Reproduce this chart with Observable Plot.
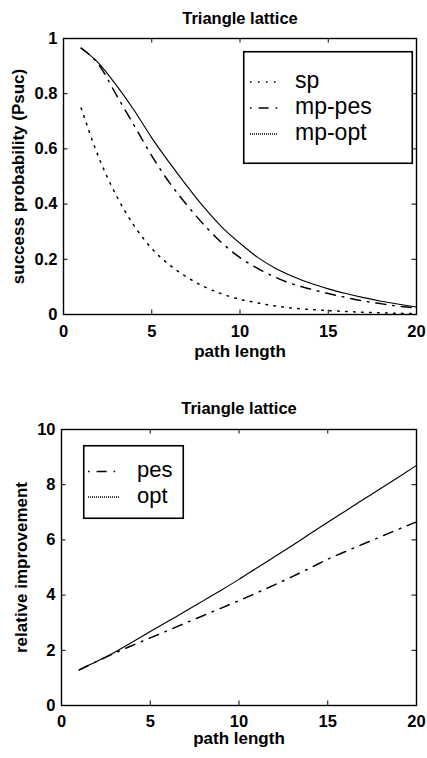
<!DOCTYPE html>
<html><head><meta charset="utf-8">
<script src="https://cdn.jsdelivr.net/npm/d3@7"></script>
<script src="https://cdn.jsdelivr.net/npm/@observablehq/plot@0.6"></script>
<style>
html,body{margin:0;padding:0;background:#fff;}
body{width:427px;height:758px;overflow:hidden;font-family:"Liberation Sans",Arial,Helvetica,sans-serif;color:#000;}
#wrap{position:relative;width:427px;height:758px;}
.panel{position:absolute;left:0;}
.legend{position:absolute;}
svg{overflow:visible;}
</style></head>
<body><div id="wrap"></div>
<script>
// ---------- data ----------
const pathLength = [1,2,3,4,5,6,7,8,9,10,11,12,13,14,15,16,17,18,19,20];
const sp    = [0.748,0.569,0.430,0.322,0.239,0.180,0.135,0.100,0.074,0.055,0.042,0.031,0.023,0.018,0.014,0.011,0.008,0.006,0.0043,0.0031];
const mpPes = [0.965,0.905,0.795,0.685,0.575,0.478,0.396,0.322,0.258,0.206,0.167,0.135,0.110,0.092,0.076,0.062,0.049,0.039,0.030,0.023];
const mpOpt = [0.965,0.910,0.830,0.740,0.640,0.550,0.465,0.385,0.315,0.258,0.207,0.168,0.138,0.113,0.093,0.076,0.061,0.048,0.037,0.027];
const relPes = [1.29,1.60,1.90,2.18,2.45,2.72,2.99,3.26,3.53,3.80,4.08,4.37,4.67,4.98,5.30,5.58,5.85,6.12,6.39,6.65];
const relOpt = [1.29,1.60,1.93,2.30,2.68,3.05,3.42,3.80,4.18,4.57,4.98,5.39,5.80,6.22,6.64,7.05,7.46,7.87,8.28,8.70];
const xTicks = [0,5,10,15,20];
const yTicksTop = [0,0.2,0.4,0.6,0.8,1];
const yTicksBottom = [0,2,4,6,8,10];
const titleText = "Triangle lattice";
const xLabel = "path length";
const yLabelTop = "success probability (Psuc)";
const yLabelBottom = "relative improvement";
const namesTop = ["sp","mp-pes","mp-opt"];
const namesBottom = ["pes","opt"];

// ---------- styles ----------
const FONT = '"Liberation Sans", Arial, Helvetica, sans-serif';
const DOT = "1.6,6.4";
const DASHDOT = "10,7,1.6,7";
const FINE = "1,1";
const styles = {
  "sp":     {dash: DOT, width: 1.5, legendDash: DOT, offset: 0},
  "mp-pes": {dash: DASHDOT, width: 1.5, legendDash: DASHDOT, offset: 17},
  "mp-opt": {dash: null, width: 1.15, legendDash: FINE, offset: 0},
  "pes":    {dash: DASHDOT, width: 1.5, legendDash: DASHDOT, offset: 17},
  "opt":    {dash: null, width: 1.15, legendDash: FINE, offset: 0}
};

const rows = vals => pathLength.map((x, i) => ({x, v: vals[i]}));
const fmtNum = d => String(+(+d).toFixed(1));

function panel(cfg) {
  const W = 427;
  const fh = cfg.height - cfg.mt - cfg.mb;
  const fw = W - cfg.ml - cfg.mr;
  const tk = 4.5;
  const marks = [
    Plot.ruleX(xTicks, {x: d => d, insetTop: fh - tk, stroke: "#000", strokeWidth: 1}),
    Plot.ruleX(xTicks, {x: d => d, insetBottom: fh - tk, stroke: "#000", strokeWidth: 1}),
    Plot.ruleY(cfg.yTicks, {y: d => d, insetRight: fw - tk, stroke: "#000", strokeWidth: 1}),
    Plot.ruleY(cfg.yTicks, {y: d => d, insetLeft: fw - tk, stroke: "#000", strokeWidth: 1}),
    Plot.axisX(xTicks, {anchor: "bottom", tickSize: 0, tickPadding: cfg.xTickPad, lineAnchor: "middle",
      fontSize: 16.5, fontWeight: "bold", fill: "#000", label: null, tickFormat: fmtNum}),
    Plot.axisY(cfg.yTicks, {anchor: "left", tickSize: 0, tickPadding: cfg.yTickPad,
      fontSize: 16.5, fontWeight: "bold", fill: "#000", label: null, tickFormat: fmtNum}),
  ];
  cfg.series.forEach(s => {
    const st = styles[s.name];
    marks.push(Plot.line(rows(s.values), {x: "x", y: "v", stroke: "#000", strokeWidth: st.width,
      strokeDasharray: st.dash, curve: "monotone-x"}));
  });
  marks.push(Plot.frame({stroke: "#000", strokeWidth: 1.4}));
  marks.push(Plot.text([titleText], {frameAnchor: "top", dy: cfg.titleDy, textAnchor: "middle", lineAnchor: "middle",
    fontSize: 16.5, fontWeight: "bold", fill: "#000"}));
  marks.push(Plot.text([xLabel], {frameAnchor: "bottom", dy: cfg.xLabelDy, textAnchor: "middle", lineAnchor: "middle",
    fontSize: 17, fontWeight: "bold", fill: "#000"}));
  marks.push(Plot.text([cfg.yLabel], {frameAnchor: "left", dx: cfg.yLabelDx, rotate: -90, textAnchor: "middle",
    lineAnchor: "middle", fontSize: 17, fontWeight: "bold", fill: "#000"}));
  return Plot.plot({
    width: W, height: cfg.height,
    marginTop: cfg.mt, marginBottom: cfg.mb, marginLeft: cfg.ml, marginRight: cfg.mr,
    style: {fontFamily: FONT, background: "#fff", color: "#000", overflow: "visible"},
    x: {domain: [0, 20], axis: null},
    y: {domain: cfg.yDomain, axis: null},
    marks
  });
}

function legend(box, names) {
  const div = document.createElement("div");
  div.className = "legend";
  div.style.left = box.left + "px";
  div.style.top = box.top + "px";
  const svg = d3.select(div).append("svg").attr("width", box.w).attr("height", box.h);
  svg.append("rect").attr("x", 0.75).attr("y", 0.75).attr("width", box.w - 1.5).attr("height", box.h - 1.5)
    .attr("fill", "#fff").attr("stroke", "#000").attr("stroke-width", 1.6);
  names.forEach((n, i) => {
    const st = styles[n];
    const y = box.row0 + i * box.rowStep;
    svg.append("line").attr("x1", box.s0).attr("x2", box.s1).attr("y1", y).attr("y2", y)
      .attr("stroke", "#000").attr("stroke-width", 1.5)
      .attr("stroke-dasharray", st.legendDash).attr("stroke-dashoffset", st.offset);
    svg.append("text").attr("x", box.tx).attr("y", y + 0.27 * box.fs)
      .attr("font-family", FONT).attr("font-size", box.fs).attr("fill", "#000").text(n);
  });
  return div;
}

const wrap = document.getElementById("wrap");

const topChart = panel({
  height: 380, mt: 38, mb: 66, ml: 63, mr: 11,
  yDomain: [0, 1], yTicks: yTicksTop, yLabel: yLabelTop,
  xTickPad: 17.5, yTickPad: 6, titleDy: -20, xLabelDy: 37, yLabelDx: -45,
  series: [{name: "sp", values: sp}, {name: "mp-pes", values: mpPes}, {name: "mp-opt", values: mpOpt}]
});
const p1 = document.createElement("div");
p1.className = "panel"; p1.style.top = "0px";
p1.appendChild(topChart);
wrap.appendChild(p1);

const bottomChart = panel({
  height: 378, mt: 49, mb: 53, ml: 61, mr: 11,
  yDomain: [0, 10], yTicks: yTicksBottom, yLabel: yLabelBottom,
  xTickPad: 16.5, yTickPad: 6, titleDy: -21, xLabelDy: 33, yLabelDx: -40,
  series: [{name: "pes", values: relPes}, {name: "opt", values: relOpt}]
});
const p2 = document.createElement("div");
p2.className = "panel"; p2.style.top = "380px";
p2.appendChild(bottomChart);
wrap.appendChild(p2);

wrap.appendChild(legend({left: 243, top: 51, w: 170, h: 113, row0: 31, rowStep: 26, s0: 7, s1: 35, tx: 52, fs: 23}, namesTop));
wrap.appendChild(legend({left: 83, top: 445, w: 101, h: 74, row0: 26.5, rowStep: 25.5, s0: 5, s1: 37, tx: 54, fs: 22}, namesBottom));
</script>
</body></html>
